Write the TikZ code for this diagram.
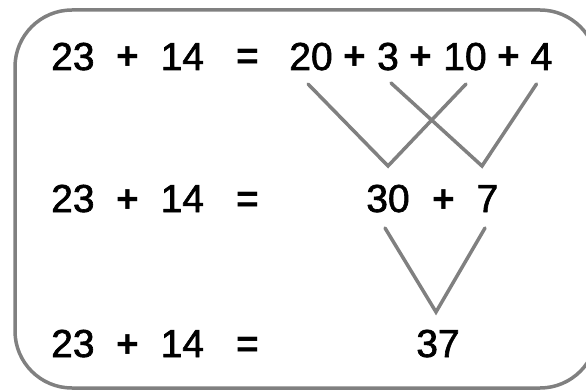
\documentclass[tikz,border=0pt]{standalone}
\usepackage{fontspec}
\setmainfont{Liberation Sans}
\newfontfamily\digitfont{Liberation Sans}[FakeBold=1.6]
\newfontfamily\signfont{Liberation Sans Bold}
\newcommand{\sgn}[1]{{\signfont #1}}
\usetikzlibrary{calc}

\begin{document}
\begin{tikzpicture}[x=1pt, y=-1pt,
  num/.style={inner sep=0pt, anchor=base, font=\fontsize{39}{40}\selectfont\digitfont},
  lhs/.style={num, anchor=base west},
  link/.style={draw=black!50, line width=3.5pt, line cap=round, line join=miter},
  frame/.style={draw=black!50, line width=3.5pt, rounded corners=57pt}]
  \clip (0,0) rectangle (586,390);
  \draw[frame] (15,10) rectangle (597,388);
  % Row 1
  \node[lhs] (lhsA) at (51,70) {23~~\sgn{+}~~14~~~\sgn{=}};
  \node[num] (n20) at (311,70) {20};
  \node[num] (pA)  at (355,70) {\sgn{+}};
  \node[num] (n3)  at (388,70) {3};
  \node[num] (pB)  at (421,70) {\sgn{+}};
  \node[num] (n10) at (465,70) {10};
  \node[num] (pC)  at (509,70) {\sgn{+}};
  \node[num] (n4)  at (541.5,70) {4};
  % Row 2
  \node[lhs] (lhsB) at (51,212) {23~~\sgn{+}~~14~~~\sgn{=}};
  \node[num] (n30) at (388,212) {30};
  \node[num] (pD)  at (443.5,212) {\sgn{+}};
  \node[num] (n7)  at (487.5,212) {7};
  % Row 3
  \node[lhs] (lhsC) at (51,357) {23~~\sgn{+}~~14~~~\sgn{=}};
  \node[num] (n37) at (438,357) {37};
  % joins
  \coordinate (vA) at (388,166);
  \coordinate (vB) at (482,166);
  \coordinate (vC) at (436,312);
  \draw[link] ([shift={(-3,14)}]n20.base) -- (vA) -- ([shift={(1,14)}]n10.base);
  \draw[link] ([shift={(3,13)}]n3.base) -- (vB) -- ([shift={(-5,14)}]n4.base);
  \draw[link] ([shift={(-3,16)}]n30.base) -- (vC) -- ([shift={(-2.5,16)}]n7.base);
\end{tikzpicture}
\end{document}
